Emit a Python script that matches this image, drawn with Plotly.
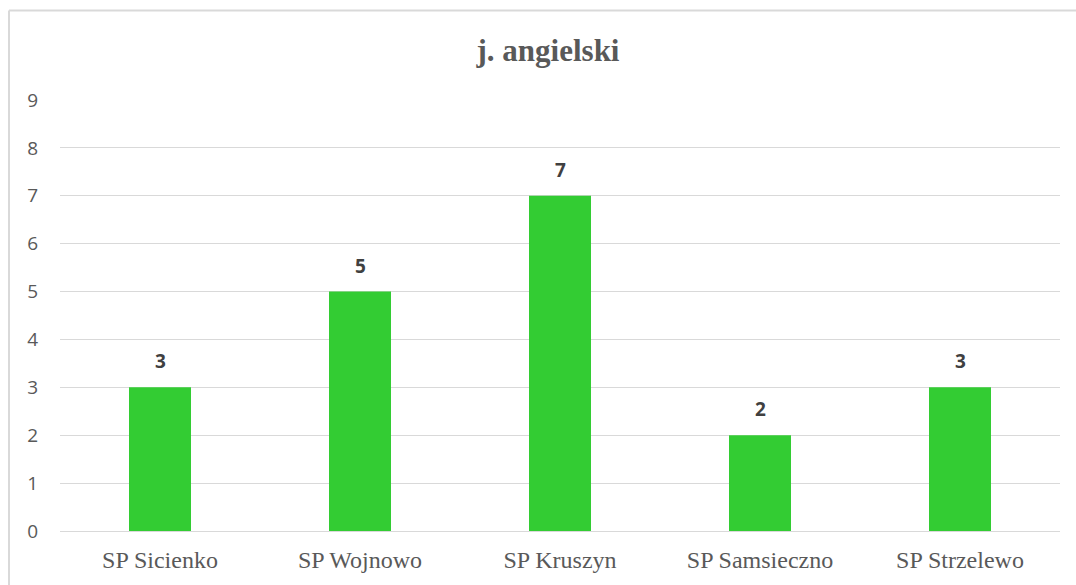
import plotly.graph_objects as go

# Number of teachers of English per school
schools = ["SP Sicienko", "SP Wojnowo", "SP Kruszyn", "SP Samsieczno", "SP Strzelewo"]
counts = [3, 5, 7, 2, 3]
y_ticks = [0, 1, 2, 3, 4, 5, 6, 7, 8, 9]

GREEN = "#33cc33"
TEXT_GREY = "#595959"
GRID = "#d9d9d9"

fig = go.Figure(
    go.Bar(
        x=schools,
        y=counts,
        marker=dict(color=GREEN, line=dict(width=0)),
        width=0.31,
        hoverinfo="x+y",
    )
)

# Value labels above each bar
for s, c in zip(schools, counts):
    fig.add_annotation(
        x=s, y=c, text=f"<b>{c}</b>", showarrow=False,
        yshift=26, font=dict(family="Open Sans, Carlito, sans-serif", size=19, color="#404040"),
    )

# Chart frame (top and left edges)
fig.add_shape(type="line", xref="paper", yref="paper", x0=-51/1000, x1=1.02, y0=1.2078, y1=1.2078,
              line=dict(color=GRID, width=2), layer="below")
fig.add_shape(type="line", xref="paper", yref="paper", x0=-51/1000, x1=-51/1000, y0=1.2078, y1=-0.2,
              line=dict(color=GRID, width=2), layer="below")

fig.update_layout(
    width=1076,
    height=585,
    margin=dict(l=60, r=16, t=100, b=52),
    paper_bgcolor="white",
    plot_bgcolor="white",
    showlegend=False,
    title=dict(
        text="<b>j. angielski</b>",
        x=548 / 1076, xanchor="center", y=1 - 50 / 585, yanchor="middle",
        font=dict(family="Liberation Serif, Times New Roman, serif", size=31, color=TEXT_GREY),
    ),
    xaxis=dict(
        range=[-0.5, 4.5],
        showgrid=False,
        showline=False,
        ticks="",
        tickfont=dict(family="Liberation Serif, Times New Roman, serif", size=24, color=TEXT_GREY),
        ticklabelstandoff=12,
    ),
    yaxis=dict(
        range=[0, 9],
        tickvals=y_ticks,
        showgrid=True,
        gridcolor=GRID,
        gridwidth=1,
        zeroline=True,
        zerolinecolor=GRID,
        zerolinewidth=1,
        showline=False,
        ticks="",
        tickfont=dict(family="Open Sans, Carlito, sans-serif", size=19, color=TEXT_GREY),
        ticklabelstandoff=21,
    ),
)

fig.write_html("out.html")
